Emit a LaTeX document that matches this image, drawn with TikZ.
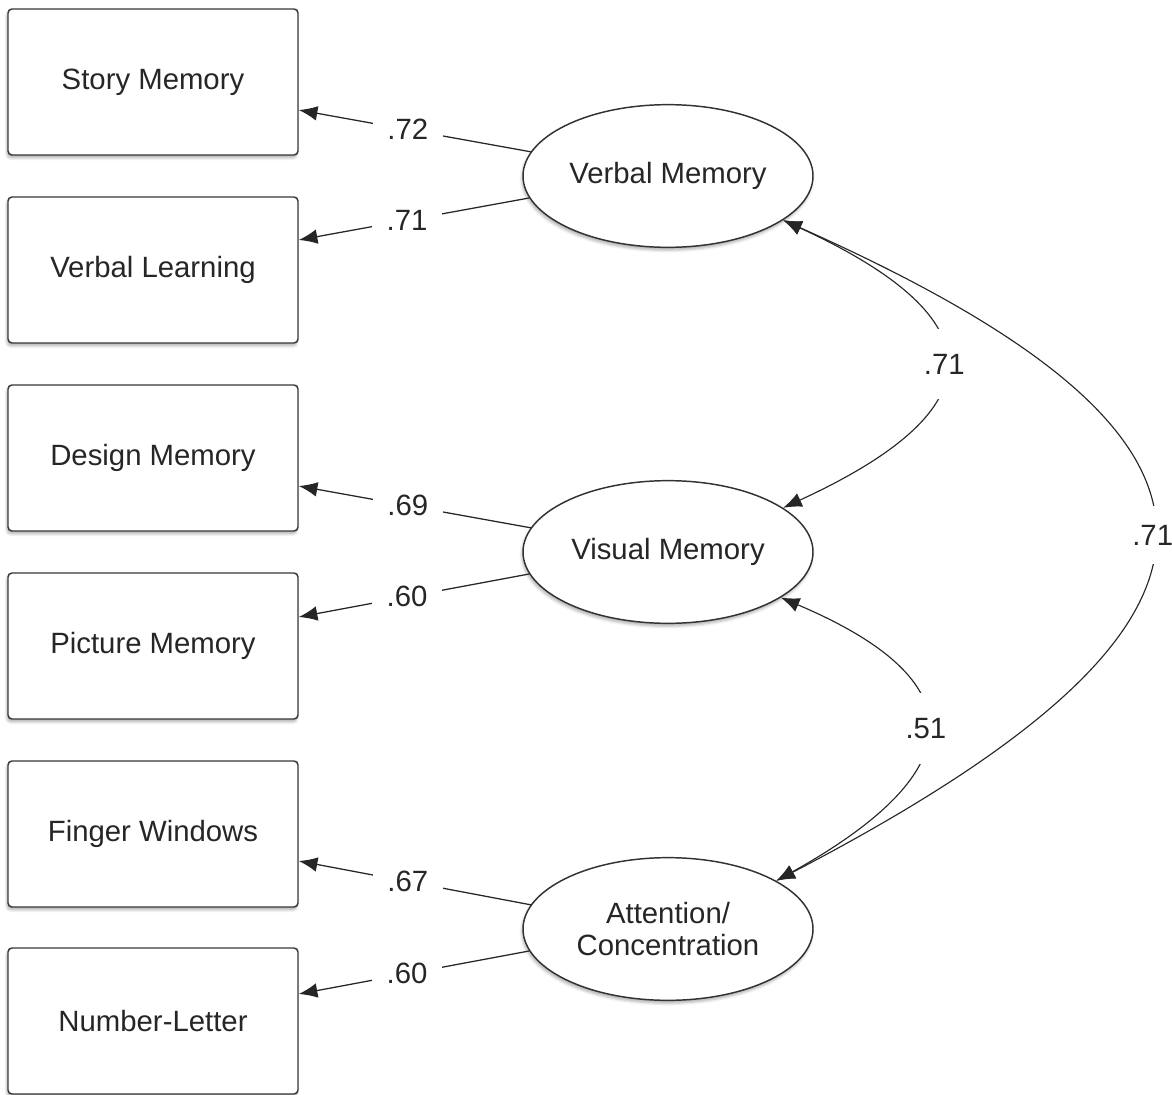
\documentclass[tikz,border=0pt]{standalone}
\usepackage{fontspec}
\setmainfont{Liberation Sans}
\usetikzlibrary{shapes.geometric,arrows.meta,shadows.blur,calc}

\begin{document}
\begin{tikzpicture}[x=0.75pt,y=-0.75pt,
  font=\fontsize{22}{24}\selectfont,
  softshadow/.style={blur shadow={shadow xshift=-0.8pt, shadow yshift=-2.2pt, shadow blur radius=2pt, shadow opacity=30}},
  obs/.style={rectangle, draw=black!78, line width=1.1pt, rounded corners=3pt,
    minimum width=217.5pt, minimum height=109.5pt, fill=white, softshadow, text=black!85},
  lat/.style={ellipse, draw=black!80, line width=1.1pt, minimum width=217.5pt,
    minimum height=107pt, inner sep=0pt, fill=white, softshadow, align=center, text=black!85},
  tip/.style={Latex[length=14pt,width=11pt]},
  load/.style={line width=0.95pt, draw=black!85, -{Latex[length=14pt,width=11pt]}},
  cov/.style={line width=0.85pt, draw=black!85, {Latex[length=14pt,width=11pt]}-{Latex[length=14pt,width=11pt]}},
  lab/.style={fill=white, inner xsep=11pt, inner ysep=3pt, text=black!85},
  clab/.style={fill=white, inner xsep=3pt, inner ysep=19pt, text=black!85},
]
\useasboundingbox (0,0) rectangle (1172,1095);

% observed indicators
\node[obs] (sm) at (153,82)   {Story Memory};
\node[obs] (vl) at (153,270)  {Verbal Learning};
\node[obs] (dm) at (153,458)  {Design Memory};
\node[obs] (pm) at (153,646)  {Picture Memory};
\node[obs] (fw) at (153,834)  {Finger Windows};
\node[obs] (nl) at (153,1021) {Number-Letter};

% latent factors
\node[lat] (vm)  at (668,176) {Verbal Memory};
\node[lat] (vis) at (668,552) {Visual Memory};
\node[lat] (att) at (668,929) {Attention/\\Concentration};

% factor loadings
\draw[load] (vm.170)  -- node[lab,pos=0.53] {.72} ($(sm.east)+(0,28)$);
\draw[load] (vm.189)  -- node[lab,pos=0.53] {.71} ($(vl.east)+(0,-30)$);
\draw[load] (vis.170) -- node[lab,pos=0.53] {.69} ($(dm.east)+(0,28)$);
\draw[load] (vis.189) -- node[lab,pos=0.53] {.60} ($(pm.east)+(0,-29)$);
\draw[load] (att.170) -- node[lab,pos=0.53] {.67} ($(fw.east)+(0,27)$);
\draw[load] (att.189) -- node[lab,pos=0.53] {.60} ($(nl.east)+(0,-27)$);

% factor correlations
\draw[cov] (vm.-21) .. controls (998,319) and (998,409) .. node[clab] {.71} (vis.21);
\draw[cov] (vis.-22) .. controls (975,680) and (975,770) .. node[clab] {.51} (att.24);
\draw[cov] (vm.-21) .. controls (1277,440) and (1277,620) .. node[clab,inner ysep=14pt] {.71} (att.24);
\end{tikzpicture}
\end{document}
